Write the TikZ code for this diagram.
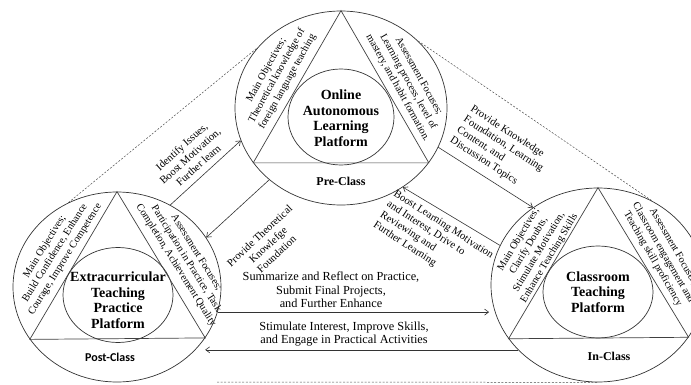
\documentclass[tikz,border=0pt]{standalone}
\usepackage{fontspec}
\setmainfont{Liberation Serif}
\newfontfamily\calibrifont{Carlito}
\usetikzlibrary{positioning, calc, shapes.geometric, arrows.meta}
\tikzstyle{Arrow} = [
    line width = 0.6pt,
    draw = black!80,
    -{Straight Barb[length=4pt, width=6pt]}
]
\tikzstyle{Guide} = [
    line width = 0.5pt,
    draw = black!70,
    dash pattern = on 2pt off 1.6pt
]

\begin{document}
\begin{tikzpicture}[
x = 1pt, y = -1pt,
outer/.style = {
    ellipse, draw = black!80, line width = 0.7pt,
    minimum width = 212pt, minimum height = 194pt, inner sep = 0
    },
inner/.style = {ellipse, draw = black!80, line width = 0.7pt, inner sep = 0},
edge/.style = {draw = black!75, line width = 0.7pt},
title/.style = {align = center, font = \fontsize{14}{15.5}\selectfont\bfseries},
phase/.style = {font = \fontsize{12}{14}\selectfont\bfseries},
side/.style = {align = center, inner sep = 0, font = \fontsize{10.3}{12}\selectfont},
flow/.style = {align = center, inner sep = 0, font = \fontsize{10.7}{12.5}\selectfont},
wide/.style = {align = center, inner sep = 0, font = \fontsize{12.3}{13.7}\selectfont}
]

\useasboundingbox (0,0) rectangle (691,385);

% pre-class
\node [outer] (1) at (341,108) {};
\node [inner, minimum width = 106pt, minimum height = 96pt] (2) at (341,117) {};
\draw [edge] (1.90) -- (1.212) -- (1.328) -- cycle;
\node [title] (3) at (341,118) {Online\\Autonomous\\Learning\\Platform};
\node [phase] (4) at (341,181) {Pre-Class};
\node [side, rotate = 61] (5) at (277,76) {Main Objectives;\\Theoretical knowledge of\\foreign language teaching};
\node [side, rotate = -61] (6) at (408,82) {Assessment Focuses;\\Learning process, level of\\mastery, and habit formation.};

% post-class
\node [outer, minimum width = 208pt, minimum height = 190pt] (7) at (117,287) {};
\node [inner, minimum width = 110pt, minimum height = 95pt] (8) at (118,295) {};
\draw [edge] (7.90) -- (7.211) -- (7.330) -- cycle;
\node [title] (9) at (118,300) {Extracurricular\\Teaching\\Practice\\Platform};
\node [phase, font = \fontsize{12}{14}\selectfont\calibrifont\bfseries] (10) at (110,357) {Post-Class};
\node [side, rotate = 58] (11) at (55,253) {Main Objectives;\\Build Confidence, Enhance\\Courage, Improve Competence};
\node [side, rotate = -58] (12) at (186,259) {Assessment Focuses;\\Participation in Practice, Task\\Completion, Achievement Quality};

% in-class
\node [outer, minimum width = 214pt] (13) at (598,285) {};
\node [inner, minimum width = 110pt, minimum height = 92pt] (14) at (598,292) {};
\draw [edge] (13.90) -- (13.211) -- (13.330) -- cycle;
\node [title] (15) at (598,292) {Classroom\\Teaching\\Platform};
\node [phase] (16) at (609,356) {In-Class};
\node [side, rotate = 59] (17) at (534,249) {Main Objectives;\\Clarify Doubts,\\Stimulate Motivation,\\Enhance Teaching Skills};
\node [side, rotate = -60] (18) at (663,253) {Assessment Focuses;\\Classroom engagement and\\Teaching skill proficiency};

% links between the platforms
\draw [Arrow] (7.57) -- (1.198);
\node [flow, rotate = 42] (19) at (190,156) {Identify Issues,\\Boost Motivation,\\Further learn};
\draw [Arrow] (1.225) -- (7.29);
\node [flow, rotate = 43] (20) at (268,245) {Provide Theoretical\\Knowlefge\\Foundation};
\draw [Arrow] (1.338) -- (13.130);
\node [flow, rotate = -33, align = left, anchor = north west] (21) at (474,104) {Provide Knowledge\\Foundation, Learning\\Content, and\\Discussion Topics};
\draw [Arrow] (13.158) -- (1.308);
\node [flow, rotate = -33, align = left, anchor = north west] (22) at (397,189) {Boost Learning Motivation\\and Interest, Drive to\\Reviewing and\\Further Learning};

\draw [Arrow, shorten >= 6pt] (7.346) -- (7.346 -| 13.195);
\node [wide] (23) at (331,290) {Summarize and Reflect on Practice,\\Submit Final Projects,\\and Further Enhance};
\draw [Arrow] (13.219) -- (13.219 -| 7.330);
\node [wide] (24) at (344,334) {Stimulate Interest, Improve Skills,\\and Engage in Practical Activities};

\draw [Guide] (7.120) -- (1.144);
\draw [Guide] (1.41) -- (13.57);
\coordinate (25) at (217,382);
\draw [Guide] (25) -- (13.south);

\end{tikzpicture}
\end{document}
